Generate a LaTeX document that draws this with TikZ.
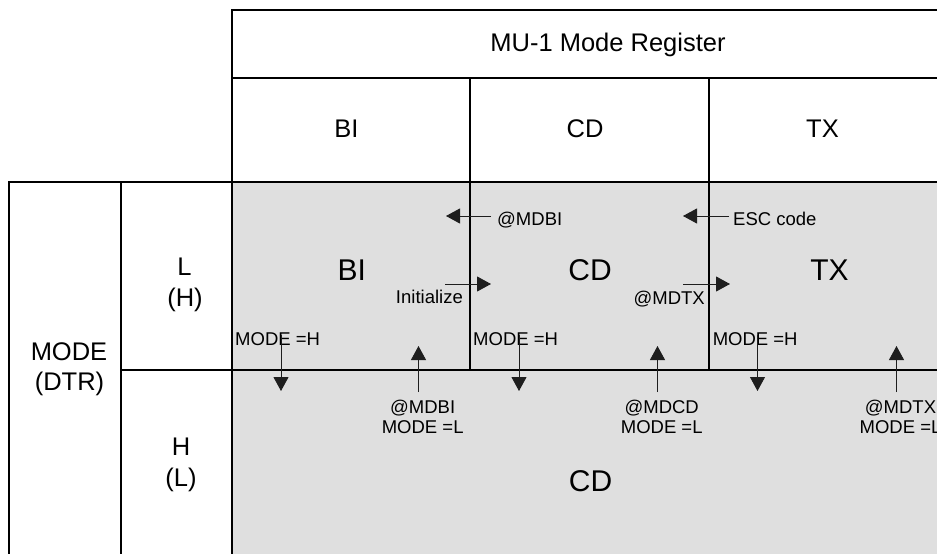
\documentclass[tikz,border=0pt]{standalone}
\usepackage{fontspec}
\setmainfont{Liberation Sans}
\usetikzlibrary{arrows.meta}
\definecolor{cellgrey}{RGB}{223,223,223}
\definecolor{arrowgrey}{RGB}{30,30,30}
\begin{document}
\begin{tikzpicture}[x=1pt,y=-1pt,
  gridline/.style={line width=1.2pt, draw=black},
  arr/.style={line width=0.9pt, draw=arrowgrey, -{Triangle[length=14pt,width=15pt]}},
  bigtxt/.style={font=\fontsize{30}{36}\selectfont, inner sep=0pt, anchor=base},
  headtxt/.style={font=\fontsize{25.5}{31}\selectfont, inner sep=0pt, anchor=base},
  sidetxt/.style={font=\fontsize{25.5}{31}\selectfont, inner sep=0pt, anchor=base},
  smalltxt/.style={font=\fontsize{18.5}{21}\selectfont, inner sep=0pt, anchor=base},
]
\clip (0,0) rectangle (937,554);
% grey state area
\fill[cellgrey] (232,182) rectangle (937,554);
% table lines
\draw[gridline] (232,554) -- (232,10) -- (937,10);
\draw[gridline] (232,78) -- (937,78);
\draw[gridline] (9,554) -- (9,182) -- (937,182);
\draw[gridline] (121,182) -- (121,554);
\draw[gridline] (121,370) -- (937,370);
\draw[gridline] (470,78) -- (470,370);
\draw[gridline] (709,78) -- (709,370);

% header texts
\node[headtxt] (title) at (608,51.7) {MU-1 Mode Register};
\node[headtxt] (hBI) at (346.5,137) {BI};
\node[headtxt] (hCD) at (585,137) {CD};
\node[headtxt] (hTX) at (822.5,137) {TX};

% side texts
\node[sidetxt] (sMODE) at (69,360) {MODE};
\node[sidetxt] (sDTR) at (69.5,390) {(DTR)};
\node[sidetxt] (sL) at (184.5,275) {L};
\node[sidetxt] (sH1) at (185,306) {(H)};
\node[sidetxt] (sH) at (181,455) {H};
\node[sidetxt] (sL1) at (181,486) {(L)};

% state texts
\node[bigtxt] (stBI) at (351.8,280) {BI};
\node[bigtxt] (stCD) at (590,280) {CD};
\node[bigtxt] (stTX) at (829.5,280) {TX};
\node[bigtxt] (stCDlow) at (590.5,491.7) {CD};

% transition labels
\node[smalltxt, anchor=base west] (lMDBI) at (497,225) {@MDBI};
\node[smalltxt, anchor=base west] (lESC) at (733,225) {ESC code};
\node[smalltxt, anchor=base east] (lInit) at (463,303) {Initialize};
\node[smalltxt, anchor=base east] (lMDTX) at (705,304) {@MDTX};
\node[smalltxt, anchor=base west] (lHbi) at (235,345.7) {MODE =H};
\node[smalltxt, anchor=base west] (lHcd) at (473,345.7) {MODE =H};
\node[smalltxt, anchor=base west] (lHtx) at (712.6,345.7) {MODE =H};
\node[smalltxt] (lbMDBI) at (422.7,413) {@MDBI};
\node[smalltxt] (lbLbi) at (422.7,433.5) {MODE =L};
\node[smalltxt] (lbMDCD) at (661.7,413) {@MDCD};
\node[smalltxt] (lbLcd) at (661.7,433.5) {MODE =L};
\node[smalltxt] (lbMDTX) at (900.5,413) {@MDTX};
\node[smalltxt] (lbLtx) at (900.5,433.5) {MODE =L};

% arrow end points
\coordinate (a1s) at (491,216);   \coordinate (a1e) at (446,216);
\coordinate (a2s) at (729,216);   \coordinate (a2e) at (683,216);
\coordinate (a3s) at (445,284);   \coordinate (a3e) at (491,284);
\coordinate (a4s) at (683,284);   \coordinate (a4e) at (730,284);
\coordinate (d1s) at (281,335);   \coordinate (d1e) at (281,391);
\coordinate (d2s) at (519,335);   \coordinate (d2e) at (519,391);
\coordinate (d3s) at (757.5,335); \coordinate (d3e) at (757.5,391);
\coordinate (u1s) at (418.5,392); \coordinate (u1e) at (418.5,346);
\coordinate (u2s) at (657.5,392); \coordinate (u2e) at (657.5,346);
\coordinate (u3s) at (896.5,392); \coordinate (u3e) at (896.5,346);

% arrows
\draw[arr] (a1s) -- (a1e);
\draw[arr] (a2s) -- (a2e);
\draw[arr] (a3s) -- (a3e);
\draw[arr] (a4s) -- (a4e);
\draw[arr] (d1s) -- (d1e);
\draw[arr] (d2s) -- (d2e);
\draw[arr] (d3s) -- (d3e);
\draw[arr] (u1s) -- (u1e);
\draw[arr] (u2s) -- (u2e);
\draw[arr] (u3s) -- (u3e);
\end{tikzpicture}
\end{document}
